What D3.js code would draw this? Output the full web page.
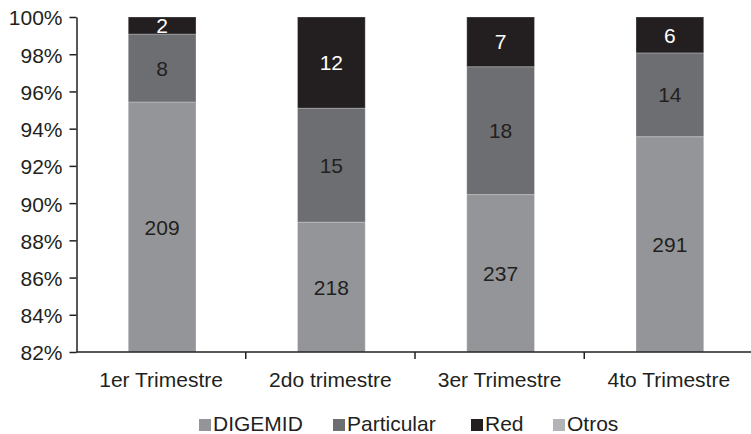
<!DOCTYPE html>
<html>
<head>
<meta charset="utf-8">
<script src="https://cdn.jsdelivr.net/npm/d3@7"></script>
<style>
  body { margin: 0; background: #fff; }
  svg text { font-family: "Liberation Sans", Arial, sans-serif; fill: #231f20; }
</style>
</head>
<body>
<svg id="chart" width="751" height="434"></svg>
<script>
// data
var categories = ["1er Trimestre", "2do trimestre", "3er Trimestre", "4to Trimestre"];
var seriesNames = ["DIGEMID", "Particular", "Red", "Otros"];
var digemid = [209, 218, 237, 291];
var particular = [8, 15, 18, 14];
var red = [2, 12, 7, 6];
var otros = [0, 0, 0, 0];
var yTicks = [0.82, 0.84, 0.86, 0.88, 0.90, 0.92, 0.94, 0.96, 0.98, 1.00];

var colors = {
  "DIGEMID": "#939598",
  "Particular": "#6d6e71",
  "Red": "#231f20",
  "Otros": "#b1b3b6"
};

var fontSize = "21px";
var plot = {left: 76.5, right: 753.5, top: 17, bottom: 352};

// table for d3.stack
var rows = categories.map(function(c, i) {
  return {cat: c, "DIGEMID": digemid[i], "Particular": particular[i], "Red": red[i], "Otros": otros[i]};
});

var stacked = d3.stack()
  .keys(seriesNames)
  .offset(d3.stackOffsetExpand)(rows);

var x = d3.scaleBand()
  .domain(categories)
  .range([plot.left, plot.right])
  .padding(0);

var barW = x.bandwidth() * 0.4;

var y = d3.scaleLinear()
  .domain([0.82, 1])
  .range([plot.bottom, plot.top])
  .clamp(true);

var svg = d3.select("#chart");

// bars
var layers = svg.append("g")
  .selectAll("g")
  .data(stacked)
  .enter()
  .append("g")
  .attr("fill", function(d) { return colors[d.key]; });

layers.selectAll("rect")
  .data(function(d) { return d; })
  .enter()
  .append("rect")
  .attr("x", function(d) { return x(d.data.cat) + (x.bandwidth() - barW) / 2 + 1; })
  .attr("width", barW)
  .attr("y", function(d) { return y(d[1]); })
  .attr("height", function(d) { return y(d[0]) - y(d[1]); })
  .attr("stroke", "rgba(255,255,255,0.25)")
  .attr("stroke-width", 1);

// value labels, centred in the visible part of each segment
layers.each(function(layer) {
  var key = layer.key;
  d3.select(this).selectAll("text")
    .data(layer.filter(function(d) { return d.data[key] > 0; }))
    .enter()
    .append("text")
    .attr("x", function(d) { return x(d.data.cat) + x.bandwidth() / 2 + 1; })
    .attr("y", function(d) { return (y(d[0]) + y(d[1])) / 2; })
    .attr("dy", "0.36em")
    .attr("text-anchor", "middle")
    .style("font-size", fontSize)
    .style("fill", key == "Red" ? "#ffffff" : "#231f20")
    .text(function(d) { return d.data[key]; });
});

// y axis
var yAxis = svg.append("g")
  .attr("transform", "translate(" + plot.left + ",0)")
  .call(d3.axisLeft(y).tickValues(yTicks).tickFormat(d3.format(".0%")).tickSize(7).tickSizeOuter(0).tickPadding(7));

yAxis.selectAll("text").style("font-size", fontSize).attr("dy", "0.38em");
yAxis.selectAll("line, path").attr("stroke", "#231f20").attr("stroke-width", 1.5);

// x axis: line, ticks between categories, labels centred
var xAxis = svg.append("g");

xAxis.append("line")
  .attr("x1", plot.left)
  .attr("x2", plot.right)
  .attr("y1", plot.bottom)
  .attr("y2", plot.bottom)
  .attr("stroke", "#231f20")
  .attr("stroke-width", 1.5);

var bounds = categories.map(function(c) { return x(c); }).concat([plot.right]);
xAxis.selectAll(".xtick")
  .data(bounds.slice(1))
  .enter()
  .append("line")
  .attr("class", "xtick")
  .attr("x1", function(d) { return d; })
  .attr("x2", function(d) { return d; })
  .attr("y1", plot.bottom)
  .attr("y2", plot.bottom + 7)
  .attr("stroke", "#231f20")
  .attr("stroke-width", 1.5);

xAxis.selectAll(".xlabel")
  .data(categories)
  .enter()
  .append("text")
  .attr("class", "xlabel")
  .attr("x", function(d) { return x(d) + x.bandwidth() / 2; })
  .attr("y", 387)
  .attr("text-anchor", "middle")
  .style("font-size", fontSize)
  .text(function(d) { return d; });

// legend
var legendX = [199, 333, 471, 553];
var legend = svg.append("g")
  .selectAll("g")
  .data(seriesNames)
  .enter()
  .append("g")
  .attr("transform", function(d, i) { return "translate(" + legendX[i] + ",419)"; });

legend.append("rect")
  .attr("width", 12)
  .attr("height", 12)
  .attr("fill", function(d) { return colors[d]; });

legend.append("text")
  .attr("x", 14)
  .attr("y", 12)
  .style("font-size", fontSize)
  .text(function(d) { return d; });
</script>
</body>
</html>
